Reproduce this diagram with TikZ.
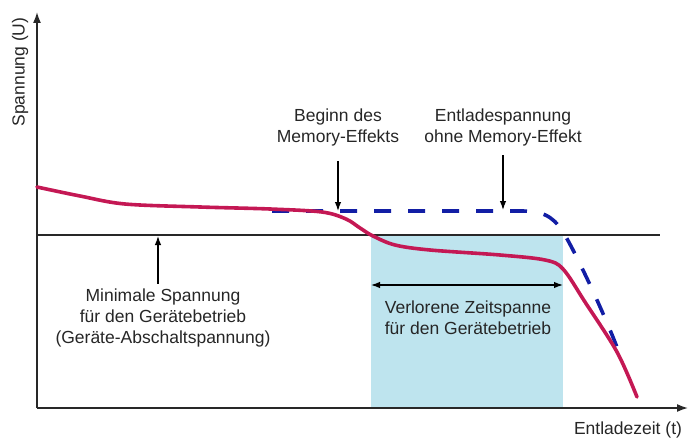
\documentclass[tikz,border=0pt]{standalone}
\usepackage{fontspec}
\setmainfont{Liberation Sans}
\usetikzlibrary{arrows.meta,calc}
\definecolor{kurvenrot}{RGB}{196,24,84}
\definecolor{kurvenblau}{RGB}{18,30,165}
\definecolor{verlustblau}{RGB}{190,228,238}
\definecolor{achsgrau}{RGB}{40,40,40}

\begin{document}
\begin{tikzpicture}[x=1pt,y=-1pt,
	lbl/.style={align=center,inner sep=2pt,text=black!85,font=\fontsize{17.5}{21}\selectfont},
	zeiger/.style={line width=1.2pt,-{Latex[length=9pt,width=6.5pt]}},
	achse/.style={achsgrau,line width=1.6pt,-{Latex[length=11pt,width=8pt]}}]
	
	\useasboundingbox (0,0) rectangle (688,441);
	
	\coordinate (o) at (37,408);
	\coordinate (ytop) at (37,12);
	\coordinate (xend) at (688,408);
	\coordinate (gl) at (37,235);
	\coordinate (gr) at (660,235);
	\coordinate (zl) at (371,285);
	\coordinate (zr) at (563,285);
	\coordinate (begspitze) at (338,211);
	\coordinate (entspitze) at (503,210);
	\coordinate (minspitze) at (158,236);
	
	% verlorene Zeitspanne
	\fill[verlustblau] (371,235) rectangle (563,408);
	
	% Achsen und Abschaltspannung
	\draw[achsgrau,line width=1.2pt] (gl) -- (gr);
	\draw[achse] (o) -- (ytop);
	\draw[achse] (o) -- (xend);
	
	% Entladekurven
	\draw[kurvenblau,line width=3.6pt,dash pattern=on 17pt off 17pt] (272,211) -- (522,211) .. controls (548,211) and (556,220) .. (566,237) .. controls (578,258) and (605,315) .. (620,355);
	\draw[kurvenrot,line width=3.6pt,line cap=round] plot[smooth,tension=0.55] coordinates {(37,187) (80,196) (125,204) (200,207) (270,209) (322,212) (346,219) (360,228) (373,236) (395,245) (430,250) (500,255) (545,260) (563,269) (585,302) (617,352) (637,397)};
	
	% Beschriftungen
	\node[lbl,rotate=90] (ylbl) at (20,72) {Spannung (U)};
	\node[lbl] (xlbl) at (628,430) {Entladezeit (t)};
	\node[lbl] (beglbl) at (338,127) {Beginn des\\Memory-Effekts};
	\node[lbl] (entlbl) at (503,127.5) {Entladespannung\\ohne Memory-Effekt};
	\node[lbl] (minlbl) at (163,318) {Minimale Spannung\\für den Gerätebetrieb\\(Geräte-Abschaltspannung)};
	\node[lbl] (zeitlbl) at (468,317.5) {Verlorene Zeitspanne\\für den Gerätebetrieb};
	
	\draw[zeiger,shorten <=13pt] (beglbl.south -| begspitze) -- (begspitze);
	\draw[zeiger,shorten <=7pt] (entlbl.south -| entspitze) -- (entspitze);
	\draw[zeiger,shorten <=3pt] (minlbl.north -| minspitze) -- (minspitze);
	\draw[line width=1.2pt,{Latex[length=9pt,width=6.5pt]}-{Latex[length=9pt,width=6.5pt]}] (zl) -- (zr);
	
\end{tikzpicture}
\end{document}
